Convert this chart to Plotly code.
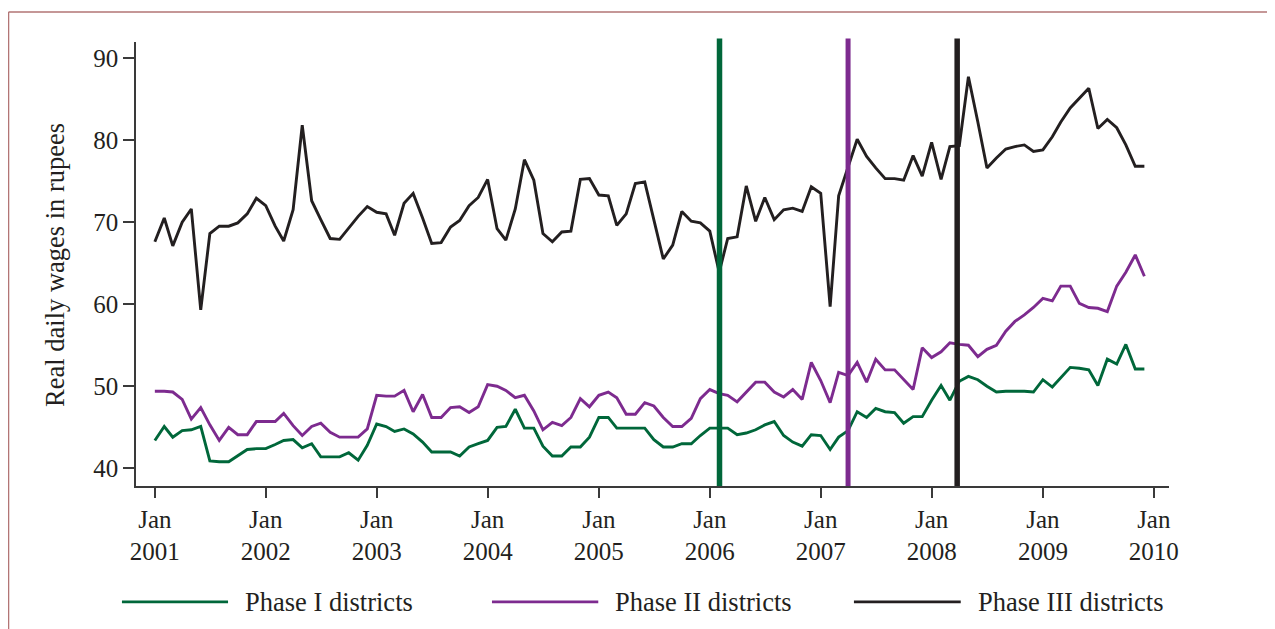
import pandas as pd
import plotly.graph_objects as go

months = pd.date_range("2001-01-01", "2009-12-01", freq="MS")

phase1 = [
    43.4, 45.1, 43.8, 44.6, 44.7, 45.1, 40.9, 40.8, 40.8, 41.5, 42.3, 42.4,
    42.4, 42.9, 43.4, 43.5, 42.5, 43.0, 41.4, 41.4, 41.4, 41.9, 41.0, 42.8,
    45.4, 45.1, 44.5, 44.8, 44.2, 43.2, 42.0, 42.0, 42.0, 41.5, 42.6, 43.0,
    43.4, 45.0, 45.1, 47.2, 44.9, 44.9, 42.7, 41.5, 41.5, 42.6, 42.6, 43.8,
    46.2, 46.2, 44.9, 44.9, 44.9, 44.9, 43.5, 42.6, 42.6, 43.0, 43.0, 44.0,
    44.9, 44.9, 44.9, 44.1, 44.3, 44.7, 45.3, 45.7, 44.0, 43.2, 42.7, 44.1,
    44.0, 42.3, 43.8, 44.6, 46.9, 46.2, 47.3, 46.9, 46.8, 45.5, 46.3, 46.3,
    48.3, 50.1, 48.3, 50.6, 51.2, 50.8, 50.0, 49.3, 49.4, 49.4, 49.4, 49.3,
    50.8, 49.9, 51.1, 52.3, 52.2, 52.0, 50.1, 53.3, 52.7, 55.1, 52.1, 52.1,
]

phase2 = [
    49.4, 49.4, 49.3, 48.4, 46.0, 47.4, 45.3, 43.4, 45.0, 44.1, 44.1, 45.7,
    45.7, 45.7, 46.7, 45.2, 44.0, 45.1, 45.5, 44.4, 43.8, 43.8, 43.8, 44.8,
    48.9, 48.8, 48.8, 49.5, 46.9, 49.0, 46.2, 46.2, 47.4, 47.5, 46.8, 47.5,
    50.2, 50.0, 49.5, 48.6, 48.9, 47.0, 44.7, 45.6, 45.2, 46.2, 48.5, 47.5,
    48.9, 49.3, 48.6, 46.6, 46.6, 48.0, 47.6, 46.2, 45.1, 45.1, 46.1, 48.5,
    49.6, 49.1, 48.9, 48.1, 49.3, 50.5, 50.5, 49.3, 48.7, 49.6, 48.4, 52.9,
    50.7, 48.0, 51.7, 51.3, 52.9, 50.5, 53.3, 52.0, 52.0, 50.8, 49.6, 54.7,
    53.5, 54.2, 55.3, 55.1, 55.0, 53.6, 54.5, 55.0, 56.7, 57.9, 58.7, 59.6,
    60.7, 60.4, 62.2, 62.2, 60.1, 59.6, 59.5, 59.1, 62.2, 63.9, 66.0, 63.4,
]

phase3 = [
    67.6, 70.5, 67.1, 70.0, 71.6, 59.3, 68.6, 69.5, 69.5, 69.9, 71.0, 72.9,
    72.0, 69.5, 67.7, 71.5, 81.8, 72.6, 70.3, 68.0, 67.9, 69.3, 70.7, 71.9,
    71.2, 71.0, 68.4, 72.3, 73.5, 70.5, 67.4, 67.5, 69.4, 70.2, 72.0, 73.0,
    75.2, 69.2, 67.8, 71.6, 77.6, 75.1, 68.6, 67.6, 68.8, 68.9, 75.2, 75.3,
    73.3, 73.2, 69.6, 71.0, 74.7, 74.9, 70.3, 65.5, 67.2, 71.3, 70.1, 69.9,
    68.9, 63.9, 68.0, 68.2, 74.4, 70.1, 73.0, 70.3, 71.5, 71.7, 71.3, 74.3,
    73.5, 59.7, 73.2, 76.7, 80.1, 78.0, 76.6, 75.3, 75.3, 75.1, 78.1, 75.6,
    79.7, 75.2, 79.2, 79.3, 87.7, 82.2, 76.6, 77.8, 78.9, 79.2, 79.4, 78.6,
    78.8, 80.4, 82.2, 83.9, 85.1, 86.3, 81.4, 82.5, 81.5, 79.4, 76.8, 76.8,
]

series_names = ["Phase I districts", "Phase II districts", "Phase III districts"]
series_colors = ["#00673A", "#7D2B8F", "#231F20"]
phase_start = ["2006-02-02", "2007-04-01", "2008-03-25"]

tick_dates = [f"{y}-01-01" for y in range(2001, 2011)]
tick_text = [f"Jan<br>{y}" for y in range(2001, 2011)]
y_ticks = [40, 50, 60, 70, 80, 90]

FONT = "Liberation Serif, Times New Roman, serif"
INK = "#231F20"

fig = go.Figure()
for name, vals, col in zip(series_names, [phase1, phase2, phase3], series_colors):
    fig.add_trace(go.Scatter(x=months, y=vals, mode="lines", name=name,
                             line=dict(color=col, width=2.9), showlegend=False))

# vertical phase-start lines
for d, col, w in zip(phase_start, series_colors, [5.5, 5, 5.5]):
    fig.add_shape(type="line", xref="x", yref="paper", x0=d, x1=d, y0=0, y1=1.008,
                  line=dict(color=col, width=w))

# manual legend (long line samples)
leg_y = -0.261
leg_pos = [(-0.0136, 0.0891, 0.1036), (0.3446, 0.4475, 0.4620), (0.6950, 0.7984, 0.8132)]
for (x0, x1, xt), name, col in zip(leg_pos, series_names, series_colors):
    fig.add_shape(type="line", xref="paper", yref="paper", x0=x0, x1=x1, y0=leg_y, y1=leg_y,
                  line=dict(color=col, width=2.9))
    fig.add_annotation(xref="paper", yref="paper", x=xt, y=leg_y, text=name, showarrow=False,
                       xanchor="left", yanchor="middle", font=dict(family=FONT, size=26.5, color=INK))

# y-axis title
fig.add_annotation(xref="paper", yref="paper", x=-0.0784, y=0.498, text="Real daily wages in rupees",
                   textangle=-90, showarrow=False, xanchor="center", yanchor="middle",
                   font=dict(family=FONT, size=26.5, color=INK))

# outer frame (top and left edges visible)
FRAME = "#B27575"
fig.add_shape(type="line", xref="paper", yref="paper", x0=-0.1234, x1=1.11, y0=1.0676, y1=1.0676,
              line=dict(color=FRAME, width=1.5))
fig.add_shape(type="line", xref="paper", yref="paper", x0=-0.1234, x1=-0.1234, y0=1.0676, y1=-0.4,
              line=dict(color=FRAME, width=1.5))

fig.update_xaxes(type="date", range=["2000-10-31", "2010-02-20"],
                 tickvals=tick_dates, ticktext=tick_text,
                 showline=True, linecolor="#3a3a3a", linewidth=1.5,
                 ticks="outside", ticklen=10, tickwidth=1.5, tickcolor="#3a3a3a",
                 showgrid=False, zeroline=False,
                 tickfont=dict(family=FONT, size=25, color=INK))
fig.update_yaxes(range=[37.85, 91.94], tickvals=y_ticks,
                 showline=True, linecolor="#3a3a3a", linewidth=1.5,
                 ticks="outside", ticklen=11, tickwidth=1.5, tickcolor="#3a3a3a",
                 showgrid=False, zeroline=False,
                 tickfont=dict(family=FONT, size=25, color=INK))

fig.update_layout(width=1267, height=621,
                  margin=dict(l=128, r=106, t=34, b=143),
                  paper_bgcolor="white", plot_bgcolor="white",
                  showlegend=False)

fig.write_html("out.html")
